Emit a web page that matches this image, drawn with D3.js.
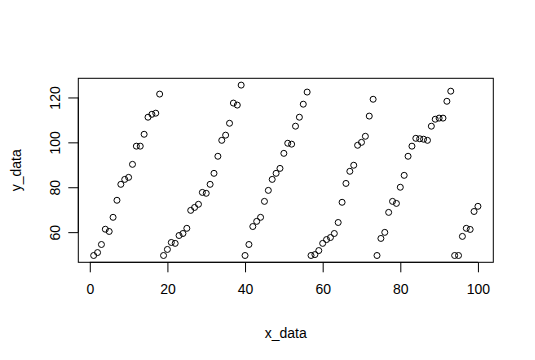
<!DOCTYPE html>
<html>
<head>
<meta charset="utf-8">
<script src="https://cdn.jsdelivr.net/npm/d3@7"></script>
<style>
  body { margin: 0; background: #fff; }
  text { font-family: "Liberation Sans", Arial, sans-serif; fill: #000; }
</style>
</head>
<body>
<div class="container"></div>
<script>
// data
const xData = [
  1, 2, 3, 4, 5, 6, 7, 8, 9, 10, 11, 12, 13, 14, 15, 16, 17, 18, 19, 20,
  21, 22, 23, 24, 25, 26, 27, 28, 29, 30, 31, 32, 33, 34, 35, 36, 37, 38, 39, 40,
  41, 42, 43, 44, 45, 46, 47, 48, 49, 50, 51, 52, 53, 54, 55, 56, 57, 58, 59, 60,
  61, 62, 63, 64, 65, 66, 67, 68, 69, 70, 71, 72, 73, 74, 75, 76, 77, 78, 79, 80,
  81, 82, 83, 84, 85, 86, 87, 88, 89, 90, 91, 92, 93, 94, 95, 96, 97, 98, 99, 100
];
const yData = [
  49.6, 50.9, 54.5, 61.3, 60.3, 66.6, 74.2, 81.3, 83.5, 84.4,
  90.2, 98.3, 98.3, 103.6, 111.2, 112.5, 113.0, 121.5, 49.6, 52.3,
  55.4, 55.0, 58.5, 59.4, 61.7, 69.7, 71.0, 72.4, 77.7, 77.3,
  81.3, 86.2, 93.8, 100.9, 103.2, 108.5, 117.5, 116.6, 125.5, 49.6,
  54.5, 62.5, 64.8, 66.6, 73.7, 78.6, 83.5, 86.2, 88.4, 95.1,
  99.6, 99.2, 107.2, 111.2, 117.0, 122.4, 49.6, 50.0, 51.8, 55.0,
  56.7, 57.6, 59.4, 64.3, 73.3, 81.7, 87.1, 89.8, 98.7, 100.0,
  102.7, 111.7, 119.2, 49.6, 57.2, 59.9, 68.8, 73.7, 72.8, 80.0,
  85.3, 93.8, 98.3, 101.8, 101.6, 101.4, 100.9, 107.2, 110.3, 110.8,
  110.8, 118.3, 122.8, 49.6, 49.6, 58.1, 61.7, 61.2, 69.2, 71.5
];
const xTicks = [0, 20, 40, 60, 80, 100];
const yTicks = [60, 80, 100, 120];

const W = 535, H = 360;
const box = { left: 78.3, right: 493.3, top: 78.3, bottom: 262.3 };

const svg = d3
  .select(".container")
  .append("svg")
  .attr("width", W)
  .attr("height", H);

// R style: extend the data range by 4% on each side
const pad = (ext) => {
  const p = (ext[1] - ext[0]) * 0.04;
  return [ext[0] - p, ext[1] + p];
};

const xScale = d3.scaleLinear()
  .domain(pad(d3.extent(xData)))
  .range([box.left, box.right]);

const yScale = d3.scaleLinear()
  .domain(pad(d3.extent(yData)))
  .range([box.bottom, box.top]);

const data = xData.map((x, i) => ({ x: x, y: yData[i] }));

// frame
svg.append("rect")
  .attr("x", box.left)
  .attr("y", box.top)
  .attr("width", box.right - box.left)
  .attr("height", box.bottom - box.top)
  .attr("fill", "none")
  .attr("stroke", "#000")
  .attr("stroke-width", 1);

// x axis
const xAxis = svg.append("g")
  .attr("transform", `translate(0, ${box.bottom})`)
  .call(d3.axisBottom(xScale).tickValues(xTicks).tickSize(10).tickPadding(12).tickSizeOuter(0));
xAxis.select(".domain")
  .attr("d", `M${xScale(0)},0H${xScale(100)}`);
xAxis.selectAll("text").style("font-size", "14px");

// y axis
const yAxis = svg.append("g")
  .attr("transform", `translate(${box.left}, 0)`)
  .call(d3.axisLeft(yScale).tickValues(yTicks).tickSize(10).tickSizeOuter(0));
yAxis.select(".domain")
  .attr("d", `M0,${yScale(60)}V${yScale(120)}`);
yAxis.selectAll(".tick text")
  .attr("x", null)
  .attr("dy", null)
  .attr("transform", "translate(-23, 0) rotate(-90)")
  .attr("text-anchor", "middle")
  .attr("dominant-baseline", "central")
  .style("font-size", "14px");

svg.selectAll(".domain, .tick line").attr("stroke", "#000");

// points
svg.selectAll(".dot")
  .data(data)
  .join("circle")
  .attr("class", "dot")
  .attr("cx", (d) => xScale(d.x))
  .attr("cy", (d) => yScale(d.y))
  .attr("r", 3)
  .attr("fill", "none")
  .attr("stroke", "#000")
  .attr("stroke-width", 1);

// axis titles
svg.append("text")
  .attr("x", (box.left + box.right) / 2)
  .attr("y", 333)
  .attr("text-anchor", "middle")
  .attr("dominant-baseline", "central")
  .style("font-size", "14px")
  .text("x_data");

svg.append("text")
  .attr("transform", `translate(16, ${(box.top + box.bottom) / 2}) rotate(-90)`)
  .attr("text-anchor", "middle")
  .attr("dominant-baseline", "central")
  .style("font-size", "14px")
  .text("y_data");
</script>
</body>
</html>
